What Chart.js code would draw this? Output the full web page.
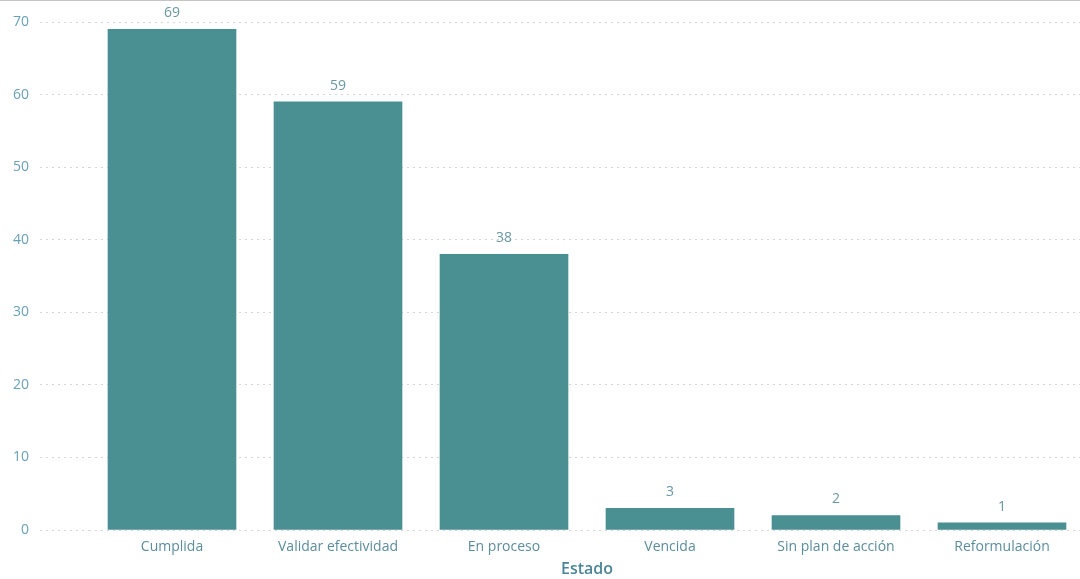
<!DOCTYPE html>
<html>
<head>
<meta charset="utf-8">
<script src="https://cdn.jsdelivr.net/npm/chart.js@4/dist/chart.umd.min.js"></script>
<style>
html, body { margin: 0; padding: 0; overflow: hidden; background: #fff; width: 1080px; height: 579px; }
#wrap { position: relative; width: 1086px; height: 579px; }
#topline { position: absolute; left: 0; top: 0; width: 1080px; height: 1px; background: #c4c4c4; z-index: 2; }
canvas { display: block; }
</style>
</head>
<body>
<div id="wrap">
<div id="topline"></div>
<canvas id="c" width="1086" height="579"></canvas>
</div>
<script>
const categories = ["Cumplida", "Validar efectividad", "En proceso", "Vencida", "Sin plan de acción", "Reformulación"];
const values = [69, 59, 38, 3, 2, 1];
const yTicks = [0, 10, 20, 30, 40, 50, 60, 70];
const axisTitle = "Estado";

const FONT = "'Open Sans', 'Noto Sans', sans-serif";

const valueLabels = {
  id: 'valueLabels',
  afterDatasetsDraw(chart) {
    const ctx = chart.ctx;
    const meta = chart.getDatasetMeta(0);
    ctx.save();
    ctx.font = "14px " + FONT;
    ctx.fillStyle = "#6a97a3";
    ctx.textAlign = "center";
    ctx.textBaseline = "bottom";
    meta.data.forEach((bar, i) => {
      ctx.fillText(String(values[i]), bar.x, bar.y - 9);
    });
    ctx.restore();
  }
};

new Chart(document.getElementById('c'), {
  type: 'bar',
  data: {
    labels: categories,
    datasets: [{
      data: values,
      backgroundColor: '#4a8f92',
      borderWidth: 0,
      barThickness: 128
    }]
  },
  options: {
    responsive: false,
    animation: false,
    devicePixelRatio: 1,
    layout: { padding: { top: 22, right: 1, left: 0, bottom: 0 } },
    plugins: { legend: { display: false }, tooltip: { enabled: false } },
    scales: {
      x: {
        grid: { display: false },
        border: { display: false },
        ticks: { color: '#5b8d9c', font: { family: FONT, size: 14 }, padding: 1, maxRotation: 0, autoSkip: false },
        title: { display: true, text: axisTitle, color: '#4a8597', font: { family: FONT, size: 16, weight: '600' }, padding: { top: 2, bottom: 0 } },
        afterFit(scale) { scale.height = 49; }
      },
      y: {
        min: 0,
        max: 70,
        afterBuildTicks(scale) { scale.ticks = yTicks.map(v => ({ value: v })); },
        border: { display: false, dash: [2, 4] },
        grid: { color: '#d6d6d6', lineWidth: 1, drawTicks: true, tickLength: 49, tickColor: '#d6d6d6', tickBorderDash: [2, 4] },
        ticks: { color: '#6aa0b7', font: { family: FONT, size: 14 }, padding: 11 },
        afterFit(scale) { scale.width = 89; }
      }
    }
  },
  plugins: [valueLabels]
});
</script>
</body>
</html>
